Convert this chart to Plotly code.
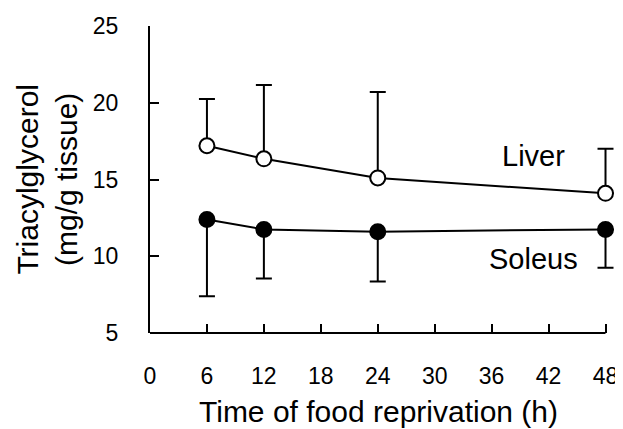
import plotly.graph_objects as go

hours = [6, 12, 24, 48]
liver = [17.2, 16.35, 15.1, 14.1]
liver_err = [3.05, 4.8, 5.6, 2.9]
soleus = [12.4, 11.75, 11.6, 11.75]
soleus_err = [5.0, 3.2, 3.25, 2.5]

x_ticks = [0, 6, 12, 18, 24, 30, 36, 42, 48]
y_ticks = [5, 10, 15, 20, 25]

FONT = "Liberation Sans, Arial, sans-serif"

# page has an 8px body margin: figure is sized/offset to fit the 623x429 window
W, H = 615, 421
L, R, T, B = 142, 7.5, 18, 96
PW = W - L - R

fig = go.Figure()
fig.add_trace(go.Scatter(
    x=hours, y=liver, mode="lines+markers", name="Liver",
    line=dict(color="black", width=2),
    marker=dict(symbol="circle", size=15, color="white", line=dict(color="black", width=2)),
    error_y=dict(type="data", array=liver_err, arrayminus=[0]*len(liver_err),
                 symmetric=False, color="black", thickness=2, width=8),
    cliponaxis=False,
))
fig.add_trace(go.Scatter(
    x=hours, y=soleus, mode="lines+markers", name="Soleus",
    line=dict(color="black", width=2),
    marker=dict(symbol="circle", size=15, color="black", line=dict(color="black", width=2)),
    error_y=dict(type="data", array=[0]*len(soleus_err), arrayminus=soleus_err,
                 symmetric=False, color="black", thickness=2, width=8),
    cliponaxis=False,
))

fig.add_annotation(x=40.4, y=16.5, text="Liver", showarrow=False,
                   font=dict(family=FONT, size=29, color="black"))
fig.add_annotation(x=40.4, y=9.85, text="Soleus", showarrow=False,
                   font=dict(family=FONT, size=29, color="black"))

# axis titles
fig.add_annotation(xref="paper", yref="paper", x=(371 - L) / PW, y=0,
                   yshift=-78, xanchor="center", yanchor="middle",
                   text="Time of food reprivation (h)", showarrow=False,
                   font=dict(family=FONT, size=30, color="black"))
fig.add_annotation(xref="paper", yref="paper", x=(38 - L) / PW, y=0.5,
                   xanchor="center", yanchor="middle", textangle=-90,
                   text="Triacylglycerol<br>(mg/g tissue)", showarrow=False,
                   font=dict(family=FONT, size=30, color="black"))

# x axis line from 0 to last tick
fig.add_shape(type="line", xref="x", yref="paper", x0=x_ticks[0], x1=x_ticks[-1], y0=0, y1=0,
              line=dict(color="black", width=2))

fig.update_layout(
    width=W, height=H,
    margin=dict(l=L, r=R, t=T, b=B),
    paper_bgcolor="white", plot_bgcolor="white",
    showlegend=False,
    font=dict(family=FONT, color="black"),
)
fig.update_xaxes(
    range=[0, 49], tickvals=x_ticks, ticktext=[str(v) for v in x_ticks],
    showgrid=False, zeroline=False, showline=False, automargin=False,
    ticks="inside", ticklen=9, tickwidth=2, tickcolor="black",
    tickfont=dict(size=23, family=FONT), ticklabelstandoff=27,
)
fig.update_yaxes(
    range=[5, 25], tickvals=y_ticks, ticktext=[str(v) for v in y_ticks],
    showgrid=False, zeroline=False, showline=True, linecolor="black", linewidth=2,
    automargin=False,
    ticks="inside", ticklen=9, tickwidth=2, tickcolor="black",
    tickfont=dict(size=23, family=FONT), ticklabelstandoff=25,
)

fig.write_html("out.html")
